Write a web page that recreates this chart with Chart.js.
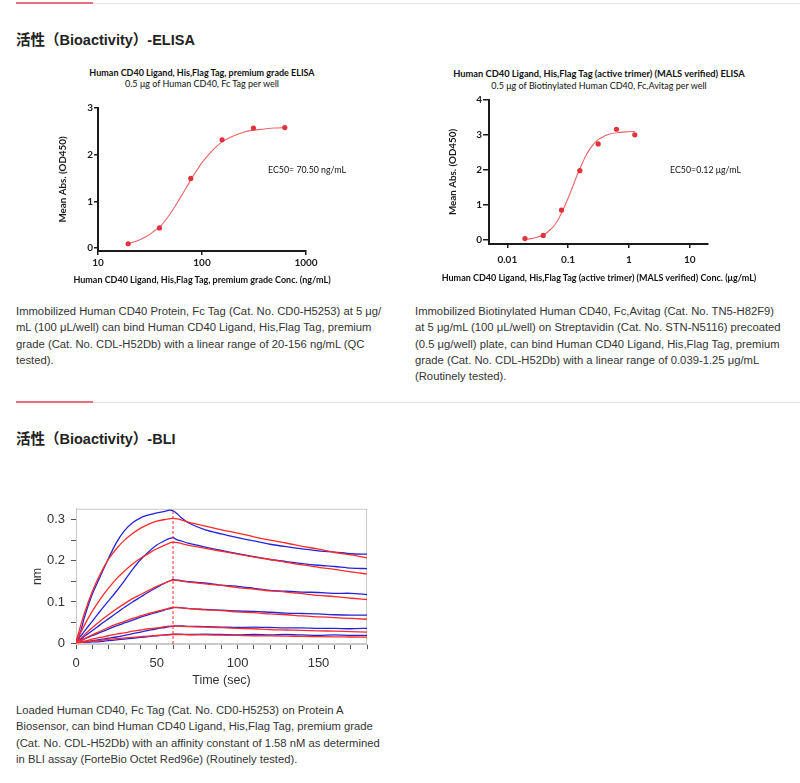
<!DOCTYPE html>
<html><head><meta charset="utf-8">
<script src="https://cdn.jsdelivr.net/npm/chart.js@4"></script>
<style>
html,body{margin:0;padding:0;background:#fff}
body{width:800px;height:783px;overflow:hidden;position:relative;font-family:Arial,"Liberation Sans","Noto Sans CJK SC",sans-serif;color:#333}
.abs{position:absolute}
.h{font-size:14.5px;font-weight:bold;color:#222;white-space:nowrap;line-height:20px}
.p{font-size:11.25px;line-height:16.3px;white-space:nowrap;color:#333}
.ct{font-family:Lato,sans-serif;font-size:9px;text-align:center;white-space:nowrap;color:#111;line-height:12px}
.ec{font-family:Lato,sans-serif;font-size:8.8px;white-space:nowrap;color:#111;line-height:12px}
.pink{background:#e8707c;height:2px}
.gray{background:#e4e4e4;height:1px}
</style></head><body>

<div class="abs pink" style="left:16px;top:2px;width:77px"></div>
<div class="abs gray" style="left:93px;top:3px;width:707px"></div>
<div class="abs h" style="left:16px;top:30px">活性（Bioactivity）-ELISA</div>

<div class="abs ct" style="left:52px;width:300px;top:67px;font-weight:bold">Human CD40 Ligand, His,Flag Tag, premium grade ELISA</div>
<div class="abs ct" style="left:52px;width:300px;top:78px">0.5 μg of Human CD40, Fc Tag per well</div>
<div class="abs ct" style="left:399px;width:400px;top:68px;font-weight:bold;font-size:9.3px">Human CD40 Ligand, His,Flag Tag (active trimer) (MALS verified) ELISA</div>
<div class="abs ct" style="left:399px;width:400px;top:80px">0.5 μg of Biotinylated Human CD40, Fc,Avitag per well</div>

<div class="abs" style="left:40px;top:60px;width:320px;height:230px"><canvas id="elisa1"></canvas></div>
<div class="abs" style="left:420px;top:60px;width:380px;height:230px"><canvas id="elisa2"></canvas></div>
<div class="abs ec" style="left:268px;top:164px">EC50= 70.50 ng/mL</div>
<div class="abs ec" style="left:670px;top:164px">EC50=0.12 μg/mL</div>
<div class="abs ct" style="left:22px;width:360px;top:274px;font-weight:bold">Human CD40 Ligand, His,Flag Tag, premium grade Conc. (ng/mL)</div>
<div class="abs ct" style="left:399px;width:400px;top:272px;font-weight:bold">Human CD40 Ligand, His,Flag Tag (active trimer) (MALS verified) Conc. (μg/mL)</div>

<div class="abs p" style="left:16px;top:303px">Immobilized Human CD40 Protein, Fc Tag (Cat. No. CD0-H5253) at 5 μg/<br>mL (100 μL/well) can bind Human CD40 Ligand, His,Flag Tag, premium<br>grade (Cat. No. CDL-H52Db) with a linear range of 20-156 ng/mL (QC<br>tested).</div>
<div class="abs p" style="left:415px;top:303px">Immobilized Biotinylated Human CD40, Fc,Avitag (Cat. No. TN5-H82F9)<br>at 5 μg/mL (100 μL/well) on Streptavidin (Cat. No. STN-N5116) precoated<br>(0.5 μg/well) plate, can bind Human CD40 Ligand, His,Flag Tag, premium<br>grade (Cat. No. CDL-H52Db) with a linear range of 0.039-1.25 μg/mL<br>(Routinely tested).</div>

<div class="abs pink" style="left:16px;top:401px;width:77px"></div>
<div class="abs gray" style="left:93px;top:402px;width:707px"></div>
<div class="abs h" style="left:16px;top:429px">活性（Bioactivity）-BLI</div>

<div class="abs" style="left:16px;top:495px;width:364px;height:195px"><canvas id="bli"></canvas></div>

<div class="abs p" style="left:16px;top:702px">Loaded Human CD40, Fc Tag (Cat. No. CD0-H5253) on Protein A<br>Biosensor, can bind Human CD40 Ligand, His,Flag Tag, premium grade<br>(Cat. No. CDL-H52Db) with an affinity constant of 1.58 nM as determined<br>in BLI assay (ForteBio Octet Red96e) (Routinely tested).</div>

<script>
// ---------- ELISA 1 (ng/mL) ----------
const elisa1Conc = [19.5, 39, 78, 156, 312.5, 625];
const elisa1OD = [0.09, 0.43, 1.49, 2.32, 2.57, 2.58];
const elisa1FitConc = [19.5, 25, 30, 35, 40, 50, 60, 70.5, 80, 90, 100, 120, 140, 160, 200, 250, 300, 400, 500, 625];
const elisa1FitOD = [0.09, 0.17, 0.26, 0.37, 0.47, 0.75, 1.03, 1.29, 1.50, 1.68, 1.83, 2.04, 2.19, 2.29, 2.40, 2.48, 2.52, 2.55, 2.57, 2.58];
const elisa1XTicks = [10, 100, 1000];
const elisa1YTicks = [0, 1, 2, 3];

// ---------- ELISA 2 (ug/mL) ----------
const elisa2Conc = [0.0195, 0.039, 0.078, 0.156, 0.3125, 0.625, 1.25];
const elisa2OD = [0.02, 0.11, 0.84, 1.97, 2.74, 3.16, 3.00];
const elisa2FitConc = [0.0195, 0.025, 0.03, 0.04, 0.05, 0.06, 0.07, 0.08, 0.1, 0.12, 0.15, 0.2, 0.25, 0.3, 0.4, 0.5, 0.7, 1.0, 1.25];
const elisa2FitOD = [0.0, 0.02, 0.05, 0.14, 0.26, 0.41, 0.59, 0.80, 1.18, 1.53, 1.96, 2.43, 2.69, 2.84, 2.97, 3.03, 3.07, 3.09, 3.10];
const elisa2XTicks = [0.01, 0.1, 1, 10];
const elisa2YTicks = [0, 1, 2, 3, 4];

// ---------- BLI ----------
const bliTimeFit = [0,5,10,15,20,25,30,35,40,45,50,55,60,70,80,90,100,110,120,130,140,150,160,170,180];
const bliFit1 = [.003,.070,.125,.168,.203,.229,.250,.266,.279,.289,.296,.300,.303,.293,.284,.275,.267,.258,.250,.243,.235,.228,.220,.214,.207];
const bliFit2 = [.003,.042,.077,.107,.133,.156,.175,.192,.206,.218,.229,.238,.245,.237,.230,.223,.216,.209,.203,.196,.190,.184,.179,.173,.168];
const bliFit3 = [.002,.0195,.0375,.054,.069,.083,.096,.108,.118,.128,.138,.146,.153,.148,.144,.140,.135,.131,.127,.124,.120,.116,.113,.109,.106];
const bliFit4 = [.002,.0105,.020,.029,.038,.046,.053,.060,.066,.072,.077,.082,.087,.084,.081,.079,.076,.074,.071,.069,.066,.064,.062,.060,.058];
const bliFit5 = [.001,.005,.0096,.014,.018,.022,.025,.029,.032,.035,.037,.040,.042,.040,.039,.0375,.036,.035,.033,.032,.031,.030,.029,.028,.027];
const bliFit6 = [.001,.0025,.0048,.007,.009,.011,.0127,.0143,.0158,.0173,.0186,.0198,.021,.0205,.020,.0193,.0187,.018,.0175,.017,.0165,.016,.0155,.015,.0145];

const bliTimeRaw = [0,1,3,5,10,15,20,25,30,35,40,45,50,55,58,60,62,65,70,80,90,100,110,120,130,140,150,160,170,180];
const bliRaw1 = [.003,.012,.030,.060,.118,.162,.205,.244,.273,.292,.304,.311,.316,.320,.323,.321,.316,.305,.291,.275,.265,.256,.248,.240,.234,.229,.224,.221,.217,.216];
const bliRaw2 = [.003,.010,.018,.028,.053,.078,.102,.126,.152,.179,.203,.222,.238,.249,.254,.256,.252,.248,.242,.233,.225,.217,.210,.203,.198,.193,.189,.186,.182,.181];
const bliRaw3 = [.003,.010,.010,.016,.030,.045,.059,.073,.087,.100,.112,.124,.135,.146,.151,.154,.153,.152,.149,.146,.141,.138,.133,.128,.126,.124,.123,.121,.121,.118];
const bliRaw4 = [.002,.010,.008,.010,.018,.026,.034,.042,.049,.056,.063,.069,.075,.081,.084,.086,.087,.086,.084,.082,.080,.078,.077,.075,.073,.072,.071,.069,.068,.068];
const bliRaw5 = [.002,.012,.006,.004,.006,.009,.012,.015,.019,.023,.027,.031,.035,.038,.040,.041,.042,.042,.041,.040,.039,.038,.039,.038,.037,.037,.036,.036,.035,.036];
const bliRaw6 = [.002,.008,.004,.002,.003,.004,.006,.008,.010,.012,.014,.016,.018,.020,.021,.022,.022,.022,.021,.022,.021,.020,.021,.020,.021,.020,.019,.020,.019,.019];
const bliMarkerTime = [60, 60];
const bliMarkerNm = [-0.002, 0.326];
const bliXTicks = [0,10,20,30,40,50,60,70,80,90,100,110,120,130,140,150,160,170,180];
const bliYTicks = [0, 0.05, 0.1, 0.15, 0.2, 0.25, 0.3];

function xy(xs, ys) { return xs.map((x, i) => ({ x: x, y: ys[i] })); }
function fixedTicks(vals) { return s => { s.ticks = vals.map(v => ({ value: v })); }; }

const ink = '#1a1a1a';
function elisaChart(id, c) {
  new Chart(document.getElementById(id), {
    type: 'scatter',
    data: { datasets: [
      { data: xy(c.fitX, c.fitY), showLine: true, pointRadius: 0, borderColor: '#e8656a', borderWidth: 1.1, cubicInterpolationMode: 'monotone', order: 2 },
      { data: xy(c.ptX, c.ptY), showLine: false, pointRadius: 2.6, pointBackgroundColor: '#e0323b', pointBorderWidth: 0, order: 1 }
    ]},
    options: {
      responsive: true, maintainAspectRatio: false, animation: false,
      layout: { padding: c.pad },
      plugins: { legend: { display: false }, tooltip: { enabled: false } },
      scales: {
        x: {
          type: 'logarithmic', min: c.xmin, max: c.xmax,
          afterBuildTicks: fixedTicks(c.xticks), afterFit: s => { s.height = c.xH; },
          grid: { drawOnChartArea: false, drawTicks: true, tickLength: c.xTL, color: ink, lineWidth: 1.5 },
          border: { color: ink, width: 2 },
          ticks: { autoSkip: false, maxRotation: 0, padding: c.xTP, color: ink, font: { family: 'Lato', weight: 'bold', size: 10 }, callback: v => String(v) },
          title: { display: false }
        },
        y: {
          type: 'linear', min: c.ymin, max: c.ymax,
          afterBuildTicks: fixedTicks(c.yticks), afterFit: s => { s.width = c.yW; },
          grid: { drawOnChartArea: false, drawTicks: true, tickLength: c.yTL, color: ink, lineWidth: 1.5 },
          border: { color: ink, width: 2 },
          ticks: { autoSkip: false, padding: 1, color: ink, font: { family: 'Lato', weight: 'bold', size: 10 }, callback: v => String(v) },
          title: { display: true, text: 'Mean Abs. (OD450)', color: ink, font: { family: 'Lato', weight: 'bold', size: 9.8 }, padding: { top: c.yTitlePad, bottom: 0 } }
        }
      }
    }
  });
}

elisaChart('elisa1', {
  fitX: elisa1FitConc, fitY: elisa1FitOD, ptX: elisa1Conc, ptY: elisa1OD,
  xmin: 10, xmax: 1000, xticks: elisa1XTicks, ymin: -0.065, ymax: 3, yticks: elisa1YTicks,
  pad: { left: 0, top: 48, right: 54, bottom: 0 }, xH: 39, yW: 58, xTL: 4, yTL: 4, xTP: 2, yTitlePad: 17
});
elisaChart('elisa2', {
  fitX: elisa2FitConc, fitY: elisa2FitOD, ptX: elisa2Conc, ptY: elisa2OD,
  xmin: 0.005, xmax: 20, xticks: elisa2XTicks, ymin: -0.135, ymax: 4, yticks: elisa2YTicks,
  pad: { left: 0, top: 40, right: 92, bottom: 0 }, xH: 46, yW: 69, xTL: 4, yTL: 6, xTP: 6, yTitlePad: 27
});

const framePlugin = {
  id: 'frame',
  beforeDatasetsDraw(chart) {
    const a = chart.chartArea, ctx = chart.ctx;
    ctx.save(); ctx.strokeStyle = '#c9c9c9'; ctx.lineWidth = 1;
    ctx.strokeRect(a.left + 0.5, a.top + 0.5, a.right - a.left - 1, a.bottom - a.top - 1);
    ctx.restore();
  }
};

const blue = '#2424d8', red = '#ff2b2b';
function rawDs(ys) { return { data: xy(bliTimeRaw, ys), showLine: true, pointRadius: 0, borderColor: blue, borderWidth: 1.3, tension: 0.25, order: 3 }; }
function fitDs(ys) { return { data: xy(bliTimeFit, ys), showLine: true, pointRadius: 0, borderColor: red, borderWidth: 1.3, cubicInterpolationMode: 'monotone', order: 2 }; }

new Chart(document.getElementById('bli'), {
  type: 'scatter',
  plugins: [framePlugin],
  data: { datasets: [
    rawDs(bliRaw1), rawDs(bliRaw2), rawDs(bliRaw3), rawDs(bliRaw4), rawDs(bliRaw5), rawDs(bliRaw6),
    fitDs(bliFit1), fitDs(bliFit2), fitDs(bliFit3), fitDs(bliFit4), fitDs(bliFit5), fitDs(bliFit6),
    { data: xy(bliMarkerTime, bliMarkerNm), showLine: true, pointRadius: 0, borderColor: red, borderWidth: 1, borderDash: [3, 2], order: 1 }
  ]},
  options: {
    responsive: true, maintainAspectRatio: false, animation: false,
    layout: { padding: { left: 0, top: 10, right: 13, bottom: 0 } },
    plugins: { legend: { display: false }, tooltip: { enabled: false } },
    scales: {
      x: {
        type: 'linear', min: 0, max: 180,
        afterBuildTicks: fixedTicks(bliXTicks), afterFit: s => { s.height = 46; },
        grid: { drawOnChartArea: false, drawTicks: true, tickLength: 5, color: '#555' },
        border: { color: '#c9c9c9' },
        ticks: { autoSkip: false, maxRotation: 0, padding: 7, color: '#333', font: { family: 'Arial', size: 13 }, callback: v => (v % 50 === 0 ? String(v) : '') },
        title: { display: true, text: 'Time (sec)', color: '#333', font: { family: 'Arial', size: 12.5 }, padding: { top: 0, bottom: 2 } }
      },
      y: {
        type: 'linear', min: -0.002, max: 0.326,
        afterBuildTicks: fixedTicks(bliYTicks), afterFit: s => { s.width = 60; },
        grid: { drawOnChartArea: false, drawTicks: true, tickLength: 5, color: '#555' },
        border: { color: '#c9c9c9' },
        ticks: { autoSkip: false, padding: 6, color: '#333', font: { family: 'Arial', size: 13 },
          callback: v => (Math.abs(v * 10 - Math.round(v * 10)) < 1e-6 ? String(Math.round(v * 10) / 10) : '') },
        title: { display: true, text: 'nm', color: '#333', font: { family: 'Arial', size: 12.5 }, padding: { top: 14, bottom: 0 } }
      }
    }
  }
});
</script>
</body></html>
